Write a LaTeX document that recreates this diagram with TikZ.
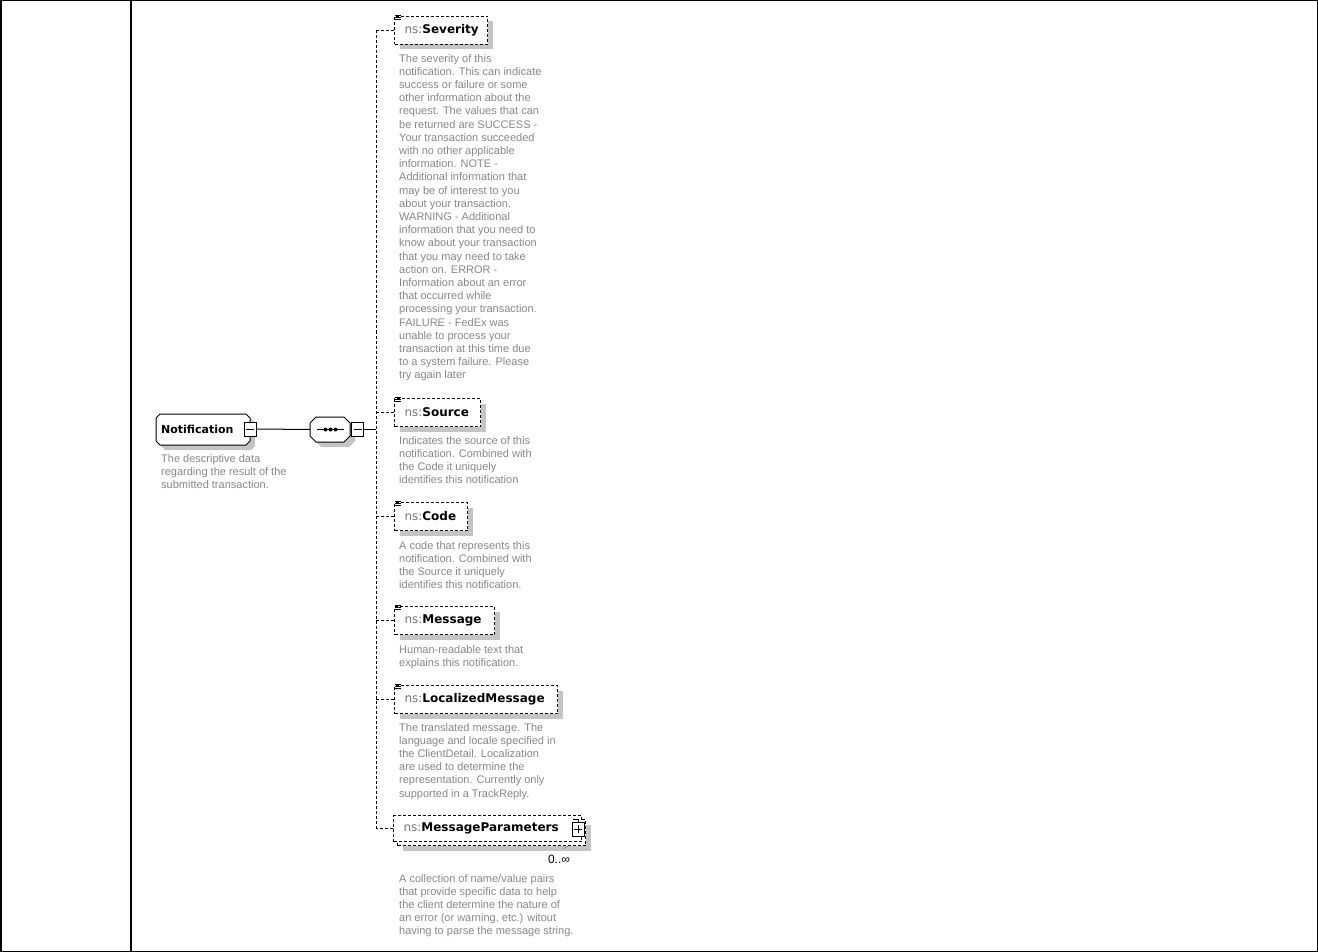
\documentclass[tikz,border=0pt]{standalone}
\usepackage{fontspec}
\setmainfont{Liberation Sans}
\newfontfamily\lblfont{DejaVu Sans}
\usetikzlibrary{shadows}
\definecolor{descgray}{RGB}{135,135,135}
\definecolor{nsgray}{RGB}{120,120,120}
\definecolor{shadowgray}{RGB}{196,196,196}
\tikzset{
  desc/.style={anchor=north west, align=left, inner sep=0pt, text=descgray, font=\fontsize{11}{13.2}\selectfont},
  shad/.style={drop shadow={shadow xshift=5pt, shadow yshift=-5pt, fill=shadowgray, opacity=1}},
  dsh/.style={dash pattern=on 3pt off 2pt, line width=1pt},
  elem/.style={draw, dsh, fill=white, anchor=north west, minimum height=28pt, inner xsep=10pt, inner ysep=0pt, align=left, font=\lblfont\fontsize{12}{14}\selectfont},
  minusbox/.style={draw, fill=white, line width=1pt, minimum width=12pt, minimum height=14pt, inner sep=0pt,
    path picture={\draw[line width=1pt] ([xshift=-4pt]path picture bounding box.center) -- ([xshift=4pt]path picture bounding box.center);}},
  plusbox/.style={draw, fill=white, line width=1pt, minimum width=12pt, minimum height=14pt, inner sep=0pt,
    path picture={\draw[line width=1pt] ([xshift=-4pt]path picture bounding box.center) -- ([xshift=4pt]path picture bounding box.center);
      \draw[line width=1pt] ([yshift=-4pt]path picture bounding box.center) -- ([yshift=4pt]path picture bounding box.center);}},
  frame/.style={line width=1.5pt},
  solid1/.style={line width=1pt},
  shapebg/.style={draw, line width=1pt, fill=white}
}
\newcommand{\elemlabel}[1]{{\color{nsgray}ns:}\textbf{#1}}
\newcommand{\lineicon}[2]{\draw[line width=0.8pt] (#1,#2) -- ++(6,0) (#1,#2+2) -- ++(6,0) (#1,#2+4) -- ++(6,0);}
\newcommand{\chamfpath}[5]{(#1+#5,#2) -- (#3-#5,#2) -- (#3,#2+#5) -- (#3,#4-#5) -- (#3-#5,#4) -- (#1+#5,#4) -- (#1,#4-#5) -- (#1,#2+#5) -- cycle}
\begin{document}
\begin{tikzpicture}[x=1pt,y=-1pt]
\useasboundingbox (0,0) rectangle (1318,952);
% frame
\draw[frame] (0.75,0.75) rectangle (1317.25,951.25);
\draw[frame] (131,0) -- (131,952);

% root element
\fill[shadowgray] \chamfpath{161}{419}{255}{450}{4};
\draw[shapebg] \chamfpath{156}{414}{250}{445}{4};
\node[anchor=west, minimum height=31pt, inner xsep=5pt, inner ysep=0pt, text width=84pt, align=left,
      font=\lblfont\bfseries\fontsize{11}{13}\selectfont] (notif) at (156,429.5) {Notification};
\node[minusbox] (m1) at (250,429) {};
\node[desc] (notifdesc) at (161,454) {The descriptive data\\regarding the result of the\\submitted transaction.};

% sequence compositor
\fill[shadowgray] \chamfpath{315}{422}{355}{447}{6};
\draw[shapebg] \chamfpath{310}{417}{350}{442}{6};
\node[minimum width=40pt, minimum height=25pt, inner sep=0pt] (seq) at (330,429.5) {};
\draw[solid1] (317,429.5) -- (344,429.5);
\fill (325.5,429.5) circle (2) (330.5,429.5) circle (2) (335.5,429.5) circle (2);
\node[minusbox] (m2) at (357.5,429) {};

\draw[solid1] (m1.east) -- (seq.west);
\coordinate (bus) at (376,429);
\draw[solid1] (m2.east) -- (bus);

% children
\node[elem, shad, text width=73pt] (sev) at (394,16) {\elemlabel{Severity}};
\lineicon{395}{15}
\node[desc] (sevdesc) at (399,54) {The severity of this\\notification. This can indicate\\success or failure or some\\other information about the\\request. The values that can\\be returned are SUCCESS -\\Your transaction succeeded\\with no other applicable\\information. NOTE -\\Additional information that\\may be of interest to you\\about your transaction.\\WARNING - Additional\\information that you need to\\know about your transaction\\that you may need to take\\action on. ERROR -\\Information about an error\\that occurred while\\processing your transaction.\\FAILURE - FedEx was\\unable to process your\\transaction at this time due\\to a system failure. Please\\try again later};

\node[elem, shad, text width=66pt] (src) at (394,398) {\elemlabel{Source}};
\lineicon{395}{397}
\node[desc] (srcdesc) at (399,436) {Indicates the source of this\\notification. Combined with\\the Code it uniquely\\identifies this notification};

\node[elem, shad, text width=53pt] (code) at (394,502) {\elemlabel{Code}};
\lineicon{395}{501}
\node[desc] (codedesc) at (399,541) {A code that represents this\\notification. Combined with\\the Source it uniquely\\identifies this notification.};

\node[elem, shad, text width=80pt] (msg) at (394,606) {\elemlabel{Message}};
\lineicon{395}{605}
\node[desc] (msgdesc) at (399,645) {Human-readable text that\\explains this notification.};

\node[elem, shad, text width=143pt] (lmsg) at (394,685) {\elemlabel{LocalizedMessage}};
\lineicon{395}{684}
\node[desc] (lmsgdesc) at (399,723) {The translated message. The\\language and locale specified in\\the ClientDetail. Localization\\are used to determine the\\representation. Currently only\\supported in a TrackReply.};

\node[elem, shad, text width=168pt, minimum height=26pt] (mpback) at (397,819) {\phantom{x}};
\node[elem, text width=168pt, minimum height=26pt] (mp) at (393,815) {\elemlabel{MessageParameters}};
\node[plusbox] (p1) at (578,829) {};
\draw[line width=0.8pt] (573,819) -- (578,819) -- (578,822);
\draw[line width=0.6pt, descgray] (563,849) -- (568,846);
\node[font=\fontsize{12}{14}\selectfont, inner sep=0pt] (mpocc) at (559,859) {0..∞};
\node[desc] (mpdesc) at (399,874) {A collection of name/value pairs\\that provide specific data to help\\the client determine the nature of\\an error (or warning, etc.) witout\\having to parse the message string.};

% bus and connectors
\draw[dsh] (sev.west -| bus) -- (mp.west -| bus);
\draw[dsh] (sev.west) -- (sev.west -| bus);
\draw[dsh] (src.west) -- (src.west -| bus);
\draw[dsh] (code.west) -- (code.west -| bus);
\draw[dsh] (msg.west) -- (msg.west -| bus);
\draw[dsh] (lmsg.west) -- (lmsg.west -| bus);
\draw[dsh] (mp.west) -- (mp.west -| bus);
\end{tikzpicture}
\end{document}
